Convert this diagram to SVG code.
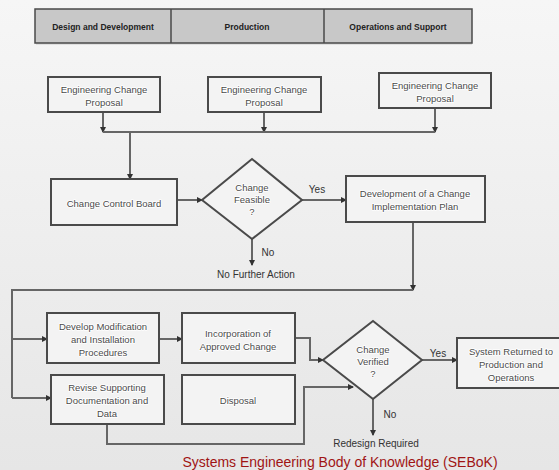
<svg xmlns="http://www.w3.org/2000/svg" width="559" height="470" viewBox="0 0 559 470">
<defs>
<linearGradient id="bg" x1="0" y1="0" x2="0" y2="1">
<stop offset="0" stop-color="#f6f6f6"/>
<stop offset="1" stop-color="#e6e6e6"/>
</linearGradient>
<marker id="ah" markerWidth="6" markerHeight="6" refX="5" refY="3" orient="auto" markerUnits="userSpaceOnUse">
<path d="M0,0 L6,3 L0,6 Z" fill="#333"/>
</marker>
<style>
.box{fill:#f3f3f3;stroke:#4a4a4a;stroke-width:2}
.t{font-family:"Liberation Sans",Arial,sans-serif;font-size:9.5px;fill:#4a4a4a;text-anchor:middle;stroke:#fff;stroke-width:1.6px;paint-order:stroke;stroke-linejoin:round}
.lbl{font-family:"Liberation Sans",Arial,sans-serif;font-size:10px;fill:#333;text-anchor:middle}
.hd{font-family:"Liberation Sans",Arial,sans-serif;font-size:8.5px;font-weight:bold;fill:#222;text-anchor:middle}
.c{fill:none;stroke:#666;stroke-width:2}
.ca{fill:none;stroke:#666;stroke-width:2;marker-end:url(#ah)}
</style>
</defs>
<rect width="559" height="470" fill="url(#bg)"/>

<g id="header">
<rect x="36" y="11" width="436" height="34" fill="#d9d9d9" opacity="0.8"/>
<rect x="35" y="9" width="437" height="34" fill="#c8c8c8" stroke="#4a4a4a" stroke-width="1.5"/>
<line x1="171" y1="9" x2="171" y2="43" stroke="#4a4a4a" stroke-width="1.5"/>
<line x1="324" y1="9" x2="324" y2="43" stroke="#4a4a4a" stroke-width="1.5"/>
<text class="hd" x="103" y="30">Design and Development</text>
<text class="hd" x="247" y="30">Production</text>
<text class="hd" x="398" y="30">Operations and Support</text>
</g>

<g id="connectors">
<path class="ca" d="M103,112 V132"/>
<path class="ca" d="M264,112 V132"/>
<path class="ca" d="M435,108 V132"/>
<path class="c" d="M103,132 H435"/>
<path class="ca" d="M130,132 V179"/>
<path class="ca" d="M177,200 H202"/>
<path class="ca" d="M252,239 V265"/>
<path class="ca" d="M302,200 H346"/>
<path class="ca" d="M413,222 V290"/>
<path class="c" d="M413,290 H12 V398"/>
<path class="ca" d="M12,339 H47"/>
<path class="ca" d="M12,398 H51"/>
<path class="ca" d="M159,339 H182"/>
<path class="ca" d="M295,338 H310 V360 H323"/>
<path class="ca" d="M107,424 V444 H304 V387 H353"/>
<path class="ca" d="M422,360 H457"/>
<path class="ca" d="M373,399 V435"/>
<text class="lbl" x="317" y="193">Yes</text>
<text class="lbl" x="268" y="256">No</text>
<text class="lbl" x="438" y="357">Yes</text>
<text class="lbl" x="390" y="418">No</text>
</g>

<g id="ecp1">
<rect class="box" x="48" y="77" width="112" height="35"/>
<text class="t" x="104" y="93">Engineering Change</text>
<text class="t" x="104" y="106">Proposal</text>
</g>
<g id="ecp2">
<rect class="box" x="208" y="77" width="113" height="35"/>
<text class="t" x="264" y="93">Engineering Change</text>
<text class="t" x="264" y="106">Proposal</text>
</g>
<g id="ecp3">
<rect class="box" x="379" y="73" width="112" height="35"/>
<text class="t" x="435" y="89">Engineering Change</text>
<text class="t" x="435" y="102">Proposal</text>
</g>

<g id="ccb">
<rect class="box" x="51" y="179" width="126" height="46"/>
<text class="t" x="114" y="207">Change Control Board</text>
</g>

<g id="feasible">
<polygon class="box" points="252,159 302,200 252,239 202,200"/>
<text class="t" x="252" y="191" font-size="8">Change</text>
<text class="t" x="252" y="203" font-size="8">Feasible</text>
<text class="t" x="252" y="215" font-size="8">?</text>
</g>

<g id="nofurther">
<text class="lbl" x="256" y="278">No Further Action</text>
</g>

<g id="devplan">
<rect class="box" x="346" y="176" width="139" height="46"/>
<text class="t" x="415" y="197">Development of a Change</text>
<text class="t" x="415" y="210">Implementation Plan</text>
</g>

<g id="develop">
<rect class="box" x="47" y="313" width="112" height="50"/>
<text class="t" x="103" y="330">Develop Modification</text>
<text class="t" x="103" y="343">and Installation</text>
<text class="t" x="103" y="356">Procedures</text>
</g>

<g id="incorp">
<rect class="box" x="182" y="313" width="113" height="50"/>
<text class="t" x="238" y="337">Incorporation of</text>
<text class="t" x="238" y="350">Approved Change</text>
</g>

<g id="revise">
<rect class="box" x="51" y="375" width="113" height="49"/>
<text class="t" x="107" y="391">Revise Supporting</text>
<text class="t" x="107" y="404">Documentation and</text>
<text class="t" x="107" y="417">Data</text>
</g>

<g id="disposal">
<rect class="box" x="182" y="375" width="113" height="49"/>
<text class="t" x="238" y="404">Disposal</text>
</g>

<g id="verified">
<polygon class="box" points="373,321 422,360 373,399 323,360"/>
<text class="t" x="373" y="353" font-size="8">Change</text>
<text class="t" x="373" y="365" font-size="8">Verified</text>
<text class="t" x="373" y="377" font-size="8">?</text>
</g>

<g id="returned">
<rect class="box" x="457" y="338" width="104" height="50"/>
<text class="t" x="511" y="355">System Returned to</text>
<text class="t" x="511" y="368">Production and</text>
<text class="t" x="511" y="381">Operations</text>
</g>

<g id="redesign">
<text class="lbl" x="376" y="447">Redesign Required</text>
</g>

<text x="340" y="467" font-family="Liberation Sans,Arial,sans-serif" font-size="14" fill="#a01414" text-anchor="middle">Systems Engineering Body of Knowledge (SEBoK)</text>
</svg>
